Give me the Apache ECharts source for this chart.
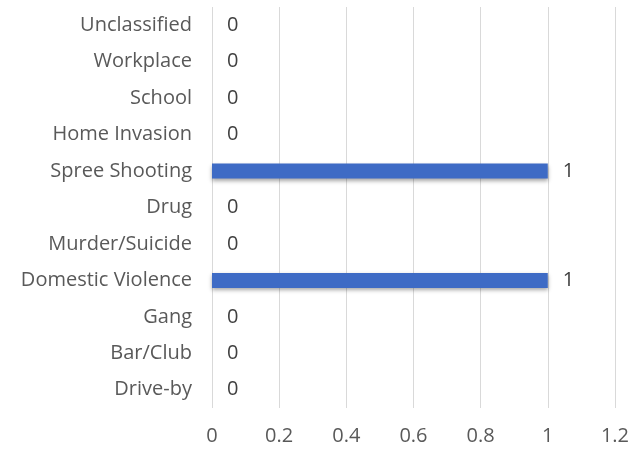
<!DOCTYPE html>
<html>
<head>
<meta charset="utf-8">
<style>
html,body{margin:0;padding:0;background:#fff;}
#c{width:632px;height:449px;}
</style>
<script src="https://cdn.jsdelivr.net/npm/echarts@6/dist/echarts.min.js"></script>
</head>
<body>
<div id="c"></div>
<script>
const categories = ["Drive-by","Bar/Club","Gang","Domestic Violence","Murder/Suicide","Drug","Spree Shooting","Home Invasion","School","Workplace","Unclassified"];
const values = [0,0,0,1,0,0,1,0,0,0,0];
const xMin = 0, xMax = 1.2, xStep = 0.2;

const chart = echarts.init(document.getElementById('c'), null, {renderer:'canvas'});
const font = '"Open Sans", sans-serif';
chart.setOption({
  animation:false,
  backgroundColor:'#fff',
  grid:{left:212,right:16,top:7,bottom:41,containLabel:false},
  xAxis:{
    type:'value',min:xMin,max:xMax,interval:xStep,
    axisLine:{show:false},axisTick:{show:false},
    splitLine:{show:true,lineStyle:{color:'#d9d9d9',width:1}},
    axisLabel:{color:'#595959',fontSize:20,fontFamily:font,margin:18,
      formatter:v=>String(Math.round(v*10)/10)}
  },
  yAxis:{
    type:'category',data:categories,
    axisLine:{show:false},axisTick:{show:false},
    splitLine:{show:false},
    axisLabel:{color:'#595959',fontSize:20,fontFamily:font,margin:20}
  },
  series:[{
    type:'bar',data:values,barWidth:15,
    itemStyle:{color:'#3E6BC5',shadowColor:'rgba(0,0,0,0.35)',shadowBlur:4,shadowOffsetY:2},
    label:{show:true,position:'right',distance:15,color:'#404040',fontSize:20,fontFamily:font}
  }]
});
</script>
</body>
</html>
